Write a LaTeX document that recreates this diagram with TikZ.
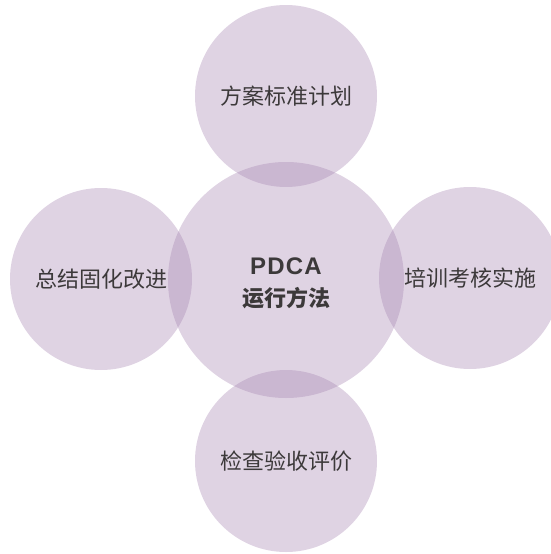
\documentclass[tikz,border=0pt]{standalone}
\usepackage{fontspec}
\newfontfamily\cjk{Noto Sans CJK SC}
\newfontfamily\latin[LetterSpace=5]{Liberation Sans}
\definecolor{lilac}{RGB}{162,127,174}
\definecolor{ink}{RGB}{60,57,58}
\tikzset{
  disc/.style={circle,fill=lilac,fill opacity=0.34,text opacity=1,text=ink,
    minimum size=#1,inner sep=0pt,align=center,font=\cjk\fontsize{22}{26}\selectfont},
}
\begin{document}
\begin{tikzpicture}[x=1pt,y=-1pt]
\useasboundingbox (0,0) rectangle (550,554);
% centre and the four steps
\node[disc=236pt] (core) at (286,280) {{\latin\bfseries\fontsize{24}{24}\selectfont\rule{0pt}{24pt}PDCA}\\[6pt]\bfseries 运行方法};
\node[disc=182pt] (plan) at (286,96) {方案标准计划};
\node[disc=182pt] (do) at (470,278) {培训考核实施};
\node[disc=182pt] (check) at (286,461) {检查验收评价};
\node[disc=182pt] (act) at (101,279) {总结固化改进};
\end{tikzpicture}
\end{document}
